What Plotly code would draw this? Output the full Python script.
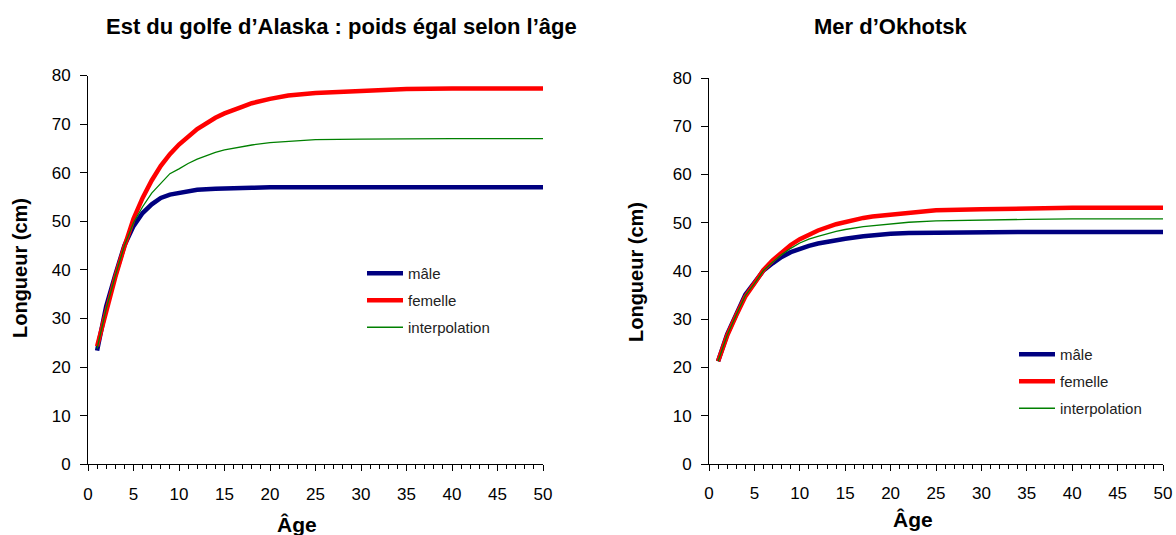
import plotly.graph_objects as go

# ---- data ----
ages = [1, 2, 3, 4, 5, 6, 7, 8, 9, 10, 11, 12, 14, 15, 17, 18, 20, 22, 25, 30, 35, 40, 50]

alaska_male = [23.4, 32.5, 39.0, 45.0, 49.0, 51.7, 53.5, 54.8, 55.5, 55.9, 56.3, 56.5,
               56.7, 56.8, 56.9, 56.9, 57.0, 57.0, 57.0, 57.0, 57.0, 57.0, 57.0]
alaska_female = [24.3, 31.5, 38.5, 44.8, 50.5, 54.8, 58.4, 61.4, 63.8, 65.8, 67.5, 69.0,
                 71.3, 72.2, 73.6, 74.3, 75.2, 75.9, 76.4, 76.9, 77.2, 77.3, 77.3]
alaska_interp = [23.8, 32.0, 38.8, 45.0, 49.7, 53.0, 55.8, 57.9, 59.8, 60.8, 61.9, 62.8,
                 64.2, 64.7, 65.4, 65.7, 66.2, 66.5, 66.8, 66.9, 67.0, 67.0, 67.0]

okhotsk_male = [21.3, 26.9, 31.0, 35.1, 37.6, 40.1, 41.6, 42.9, 43.9, 44.6, 45.2, 45.7,
                46.4, 46.7, 47.2, 47.4, 47.7, 47.9, 48.0, 48.1, 48.1, 48.1, 48.1]
okhotsk_female = [21.3, 26.6, 30.8, 34.7, 37.4, 40.2, 42.2, 43.9, 45.4, 46.6, 47.6, 48.4,
                  49.7, 50.2, 51.0, 51.3, 51.7, 52.1, 52.6, 52.8, 53.0, 53.1, 53.1]
okhotsk_interp = [21.3, 26.7, 30.9, 34.9, 37.4, 40.1, 41.8, 43.4, 44.7, 45.8, 46.6, 47.2,
                  48.2, 48.6, 49.2, 49.4, 49.8, 50.1, 50.4, 50.6, 50.7, 50.8, 50.8]

series_names = ["mâle", "femelle", "interpolation"]
series_colors = ["#000080", "#FF0000", "#008000"]
series_widths = [4.5, 4.5, 1.3]

titles = ["Est du golfe d\u2019Alaska : poids égal selon l\u2019âge", "Mer d\u2019Okhotsk"]
x_title = "Âge"
y_title = "Longueur (cm)"

W, H = 1176, 535
FONT = "Arial, Liberation Sans, sans-serif"

fig = go.Figure()

panels = [
    (alaska_male, alaska_female, alaska_interp, "x", "y", "legend"),
    (okhotsk_male, okhotsk_female, okhotsk_interp, "x2", "y2", "legend2"),
]
for (m, f, itp, xa, ya, lg) in panels:
    for i, vals in enumerate([m, f, itp]):
        fig.add_trace(go.Scatter(
            x=ages, y=vals, mode="lines", name=series_names[i],
            line=dict(color=series_colors[i], width=series_widths[i]),
            xaxis=xa, yaxis=ya, legend=lg, legendgroup=lg + str(i),
            showlegend=True,
        ))

def px_x(p):
    return p / W

def px_y(p):
    return 1 - p / H

xaxis_common = dict(
    range=[0, 50], dtick=5, tick0=0, ticks="outside", ticklen=6, tickwidth=1,
    tickcolor="#000", showline=True, linecolor="#000", linewidth=1,
    showgrid=False, zeroline=False, tickfont=dict(family=FONT, size=17, color="#000"),
    minor=dict(dtick=1, ticks="outside", ticklen=4, tickcolor="#000", showgrid=False),
    ticklabelstandoff=8, fixedrange=True, automargin=False,
)
yaxis_common = dict(
    range=[0, 80], dtick=10, tick0=0, ticks="outside", ticklen=7, tickwidth=1,
    tickcolor="#000", showline=True, linecolor="#000", linewidth=1,
    showgrid=False, zeroline=False, tickfont=dict(family=FONT, size=17, color="#000"),
    ticklabelstandoff=6, fixedrange=True, automargin=False,
)

legend_common = dict(
    font=dict(family=FONT, size=15, color="#222"),
    bgcolor="rgba(0,0,0,0)", borderwidth=0, tracegroupgap=4.5, itemwidth=36,
    xanchor="left", yanchor="top", itemclick=False, itemdoubleclick=False,
)

fig.update_layout(
    width=W, height=H,
    margin=dict(l=0, r=0, t=0, b=0, autoexpand=False),
    paper_bgcolor="white", plot_bgcolor="white",
    showlegend=True,
    xaxis=dict(domain=[px_x(88), px_x(543)], anchor="y", **xaxis_common),
    yaxis=dict(domain=[px_y(464.3), px_y(75.5)], anchor="x", **yaxis_common),
    xaxis2=dict(domain=[px_x(709), px_x(1163)], anchor="y2", **xaxis_common),
    yaxis2=dict(domain=[px_y(464), px_y(78)], anchor="x2", **yaxis_common),
    legend=dict(x=px_x(362), y=px_y(257), **legend_common),
    legend2=dict(x=px_x(1014), y=px_y(338), **legend_common),
)

annotations = [
    dict(text="<b>" + titles[0] + "</b>", x=px_x(341), y=px_y(26), size=22),
    dict(text="<b>" + titles[1] + "</b>", x=px_x(891), y=px_y(26), size=22),
    dict(text="<b>" + x_title + "</b>", x=px_x(297), y=px_y(524), size=21),
    dict(text="<b>" + x_title + "</b>", x=px_x(913), y=px_y(519), size=21),
]
for a in annotations:
    size = a.pop("size")
    a.update(xref="paper", yref="paper", showarrow=False, xanchor="center", yanchor="middle",
             font=dict(family=FONT, size=size, color="#000"))
for (xc, yc) in [(20, 268), (636, 272)]:
    annotations.append(dict(text="<b>" + y_title + "</b>", x=px_x(xc), y=px_y(yc),
                            xref="paper", yref="paper", showarrow=False, textangle=-90,
                            xanchor="center", yanchor="middle",
                            font=dict(family=FONT, size=20, color="#000")))
fig.update_layout(annotations=annotations)

fig.write_html(
    "out.html",
    config={"displayModeBar": False},
    post_script="document.body.style.margin='0';document.body.style.overflow='hidden';"
                "document.documentElement.style.overflow='hidden';",
)
